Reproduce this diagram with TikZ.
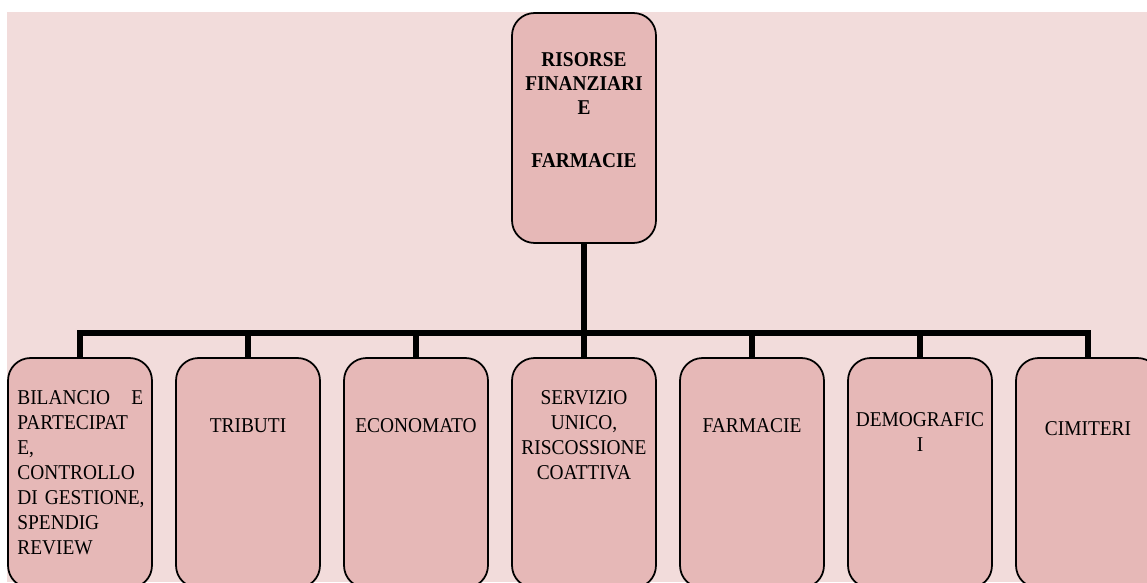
\documentclass[tikz,border=0pt]{standalone}
\usepackage{fontspec}
\setmainfont{Liberation Serif}[FakeStretch=0.92]
\usepackage{tikz}
\usetikzlibrary{calc}

\definecolor{sfondo}{HTML}{F2DCDB}
\definecolor{riempi}{HTML}{E6B8B7}

\tikzset{
  ufficio/.style={draw=black, line width=1pt, fill=riempi, rounded corners=0.45cm,
    minimum width=2.88cm, minimum height=4.6cm, inner sep=0pt},
  testo/.style={inner sep=0pt, align=center, font=\fontsize{12pt}{14.2pt}\selectfont},
  ramo/.style={line width=3.4pt}
}

\begin{document}
\begin{tikzpicture}[x=0.02cm, y=-0.02cm]

% page
\clip (0,0) rectangle (1147,582);
\fill [white] (0,0) rectangle (1147,582);
\fill [sfondo] (7,12) rectangle (1147,582);

% boxes
\node [ufficio] (dir) at (584,128) {};
\node [ufficio] (bil) at (80,473) {};
\node [ufficio] (trib) at (248,473) {};
\node [ufficio] (econ) at (416,473) {};
\node [ufficio] (serv) at (584,473) {};
\node [ufficio] (farm) at (752,473) {};
\node [ufficio] (demo) at (920,473) {};
\node [ufficio] (cimi) at (1088,473) {};

% connectors
\coordinate (bus) at (584,333);
\draw [ramo] (dir.south) -- (bus);
\draw [ramo] (bus) -| (bil.north);
\draw [ramo] (bus) -| (trib.north);
\draw [ramo] (bus) -| (econ.north);
\draw [ramo] (bus) -- (serv.north);
\draw [ramo] (bus) -| (farm.north);
\draw [ramo] (bus) -| (demo.north);
\draw [ramo] (bus) -| (cimi.north);

% texts
\node [testo, font=\bfseries\fontsize{12pt}{13.6pt}\selectfont] (dirtxt) at (584,110)
  {RISORSE\\FINANZIARI\\E\\[16.5pt]FARMACIE};
\node [testo, align=left, text width=2.52cm, anchor=north west] (biltxt) at (17,390)
  {BILANCIO\hfill E\\PARTECIPAT\\E,\\CONTROLLO\\\mbox{DI GESTIONE,}\\SPENDIG\\REVIEW};
\node [testo] (tribtxt) at (248,426) {TRIBUTI};
\node [testo] (econtxt) at (416,426) {ECONOMATO};
\node [testo] (servtxt) at (584,435) {SERVIZIO\\UNICO,\\RISCOSSIONE\\COATTIVA};
\node [testo] (farmtxt) at (752,426) {FARMACIE};
\node [testo] (demotxt) at (920,432) {DEMOGRAFIC\\I};
\node [testo] (cimitxt) at (1088,429) {CIMITERI};

\end{tikzpicture}
\end{document}
